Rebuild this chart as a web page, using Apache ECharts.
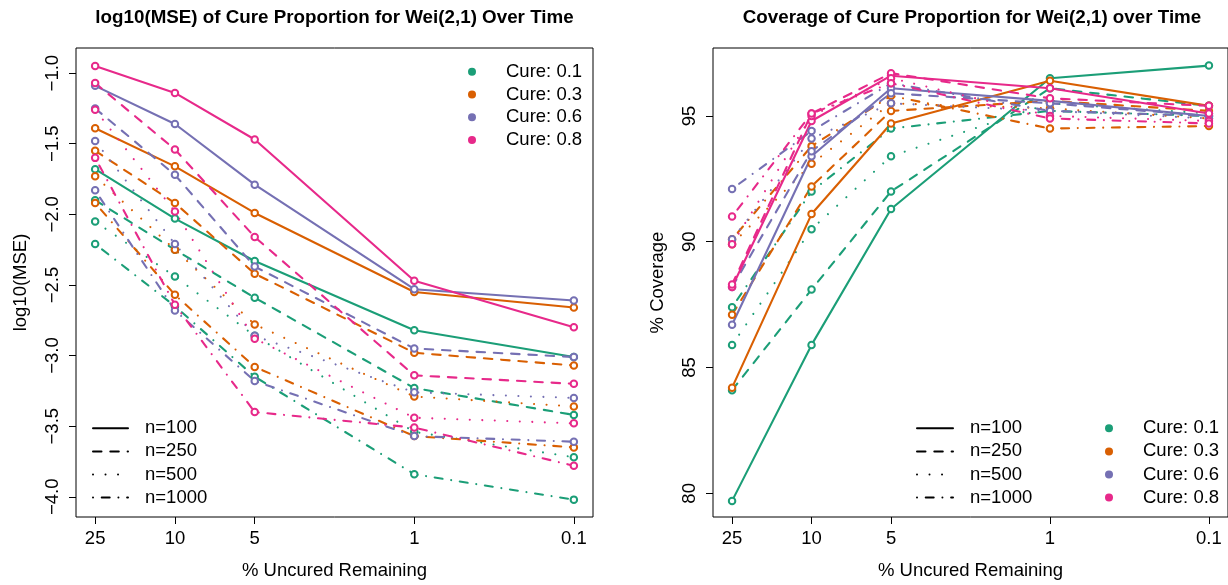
<!DOCTYPE html>
<html>
<head>
<meta charset="utf-8">
<script src="https://cdn.jsdelivr.net/npm/echarts@6/dist/echarts.min.js"></script>
<style>
  html, body { margin: 0; padding: 0; background: #fff; }
  #chart { width: 1228px; height: 585px; }
</style>
</head>
<body>
<div id="chart"></div>
<script>
// x positions used by the plot (25, 10, 5, 1, 0.1 % uncured remaining)
const xPos = [1, 2, 3, 5, 7];
const xLabels = ['25', '10', '5', '1', '0.1'];
const cureNames = ['Cure: 0.1', 'Cure: 0.3', 'Cure: 0.6', 'Cure: 0.8'];
const nNames = ['n=100', 'n=250', 'n=500', 'n=1000'];

// log10(MSE), rows: n=100, 250, 500, 1000
const mseCure01 = [
  [-1.68, -2.03, -2.33, -2.82, -3.01],
  [-1.90, -2.25, -2.59, -3.23, -3.42],
  [-2.05, -2.44, -2.86, -3.54, -3.72],
  [-2.21, -2.65, -3.15, -3.84, -4.02]
];
const mseCure03 = [
  [-1.39, -1.66, -1.99, -2.55, -2.66],
  [-1.55, -1.92, -2.42, -2.98, -3.07],
  [-1.73, -2.25, -2.78, -3.29, -3.36],
  [-1.92, -2.57, -3.08, -3.57, -3.65]
];
const mseCure06 = [
  [-1.09, -1.36, -1.79, -2.53, -2.61],
  [-1.25, -1.72, -2.37, -2.95, -3.01],
  [-1.48, -2.21, -2.86, -3.26, -3.30],
  [-1.83, -2.68, -3.18, -3.57, -3.61]
];
const mseCure08 = [
  [-0.95, -1.14, -1.47, -2.47, -2.80],
  [-1.07, -1.54, -2.16, -3.14, -3.20],
  [-1.26, -1.98, -2.88, -3.44, -3.48],
  [-1.60, -2.64, -3.40, -3.51, -3.78]
];

// % coverage, rows: n=100, 250, 500, 1000
const covCure01 = [
  [79.7, 85.9, 91.3, 96.5, 97.0],
  [84.1, 88.1, 92.0, 96.1, 95.4],
  [85.9, 90.5, 93.4, 95.5, 95.1],
  [87.4, 92.0, 94.5, 95.2, 95.0]
];
const covCure03 = [
  [84.2, 91.1, 94.7, 96.4, 95.4],
  [87.1, 92.2, 95.2, 95.6, 95.2],
  [89.9, 93.1, 95.5, 95.3, 94.9],
  [90.1, 93.8, 95.8, 94.5, 94.6]
];
const covCure06 = [
  [86.7, 93.4, 96.1, 95.6, 95.0],
  [88.2, 93.6, 95.9, 95.5, 95.0],
  [90.1, 94.1, 95.5, 95.2, 94.9],
  [92.1, 94.4, 96.3, 95.2, 95.0]
];
const covCure08 = [
  [88.2, 94.8, 96.6, 96.1, 95.1],
  [88.3, 95.1, 96.7, 95.7, 95.4],
  [89.9, 95.0, 96.5, 95.0, 94.8],
  [91.0, 95.1, 96.3, 94.9, 94.7]
];

const mseTicks = [-4, -3.5, -3, -2.5, -2, -1.5, -1];
const covTicks = [80, 85, 90, 95];

const cureColors = ['#1B9E77', '#D95F02', '#7570B3', '#E7298A'];
// solid, dashed, dotted, dot-dash (round caps add to dash length)
const dashes = ['solid', [8.5, 8.8], [0.01, 12.5], [0.01, 8.7, 8, 8.7]];
const fontFamily = '"Liberation Sans", Arial, Helvetica, sans-serif';
const fs = 18.5;

const chart = echarts.init(document.getElementById('chart'));

function xAxisFor(gridIndex) {
  return {
    type: 'value', gridIndex: gridIndex, min: 0.76, max: 7.24,
    name: '% Uncured Remaining', nameLocation: 'middle', nameGap: 44,
    nameTextStyle: { fontSize: fs, color: '#000', fontFamily: fontFamily },
    axisLine: { show: false },
    axisTick: { show: true, length: 7, customValues: xPos, lineStyle: { color: '#000', width: 1 } },
    axisLabel: {
      customValues: xPos, margin: 12, fontSize: fs, color: '#000', fontFamily: fontFamily,
      formatter: function (v) { return xLabels[xPos.indexOf(v)]; }
    },
    splitLine: { show: false }
  };
}

function yAxisFor(gridIndex, name, min, max, ticks, fmt) {
  return {
    type: 'value', gridIndex: gridIndex, min: min, max: max,
    name: name, nameLocation: 'middle', nameGap: 46,
    nameTextStyle: { fontSize: fs, color: '#000', fontFamily: fontFamily },
    axisLine: { show: false },
    axisTick: { show: true, length: 7, customValues: ticks, lineStyle: { color: '#000', width: 1 } },
    axisLabel: {
      customValues: ticks, rotate: 90, margin: 14, fontSize: fs, color: '#000', fontFamily: fontFamily,
      formatter: fmt
    },
    splitLine: { show: false }
  };
}

const series = [];
function addPanel(panel, tables) {
  tables.forEach(function (tbl, c) {
    tbl.forEach(function (vals, k) {
      series.push({
        type: 'line',
        name: cureNames[c] + ' ' + nNames[k],
        xAxisIndex: panel, yAxisIndex: panel,
        data: xPos.map(function (x, i) { return [x, vals[i]]; }),
        symbol: 'emptyCircle', symbolSize: 6.5, showSymbol: true,
        lineStyle: { color: cureColors[c], width: 2.1, type: dashes[k], cap: 'round' },
        itemStyle: { color: cureColors[c], borderWidth: 2 },
        silent: true
      });
    });
  });
}
addPanel(0, [mseCure01, mseCure03, mseCure06, mseCure08]);
addPanel(1, [covCure01, covCure03, covCure06, covCure08]);

// legends drawn in the R style
const graphic = [];
function lineLegend(x1, x2, xt, y0, step) {
  nNames.forEach(function (nm, k) {
    const y = y0 + k * step;
    const d = dashes[k];
    graphic.push({
      type: 'line', shape: { x1: x1, y1: y, x2: x2, y2: y },
      style: { stroke: '#000', lineWidth: 2, lineCap: 'round', lineDash: d === 'solid' ? null : d }
    });
    graphic.push({
      type: 'text', x: xt, y: y,
      style: { text: nm, fontSize: fs, fontFamily: fontFamily, fill: '#000', verticalAlign: 'middle' }
    });
  });
}
function pointLegend(xc, xt, y0, step) {
  cureNames.forEach(function (nm, c) {
    const y = y0 + c * step;
    graphic.push({ type: 'circle', shape: { cx: xc, cy: y, r: 4 }, style: { fill: cureColors[c] } });
    graphic.push({
      type: 'text', x: xt, y: y,
      style: { text: nm, fontSize: fs, fontFamily: fontFamily, fill: '#000', verticalAlign: 'middle' }
    });
  });
}
pointLegend(472, 506, 71.7, 22.8);
lineLegend(93, 128, 145, 428.3, 23.1);
lineLegend(917, 953, 970, 428.3, 23.1);
pointLegend(1109, 1143, 428.3, 23.1);

const option = {
  animation: false,
  backgroundColor: '#fff',
  textStyle: { fontFamily: fontFamily },
  title: [
    { text: 'log10(MSE) of Cure Proportion for Wei(2,1) Over Time', left: 334.5, top: 8, padding: 0, textAlign: 'center',
      textStyle: { fontSize: 18.8, fontWeight: 'bold', color: '#000', fontFamily: fontFamily } },
    { text: 'Coverage of Cure Proportion for Wei(2,1) over Time', left: 972, top: 8, padding: 0, textAlign: 'center',
      textStyle: { fontSize: 18.8, fontWeight: 'bold', color: '#000', fontFamily: fontFamily } }
  ],
  grid: [
    { left: 76, top: 48, width: 517, height: 471, show: true, borderColor: '#000', borderWidth: 1, containLabel: false },
    { left: 713, top: 48, width: 518, height: 471, show: true, borderColor: '#000', borderWidth: 1, containLabel: false }
  ],
  xAxis: [xAxisFor(0), xAxisFor(1)],
  yAxis: [
    yAxisFor(0, 'log10(MSE)', -4.143, -0.822, mseTicks, function (v) {
      return (v < 0 ? '\u2212' : '') + Math.abs(v).toFixed(1);
    }),
    yAxisFor(1, '% Coverage', 79.06, 97.70, covTicks, function (v) { return String(v); })
  ],
  series: series,
  graphic: graphic
};

chart.setOption(option);
</script>
</body>
</html>
